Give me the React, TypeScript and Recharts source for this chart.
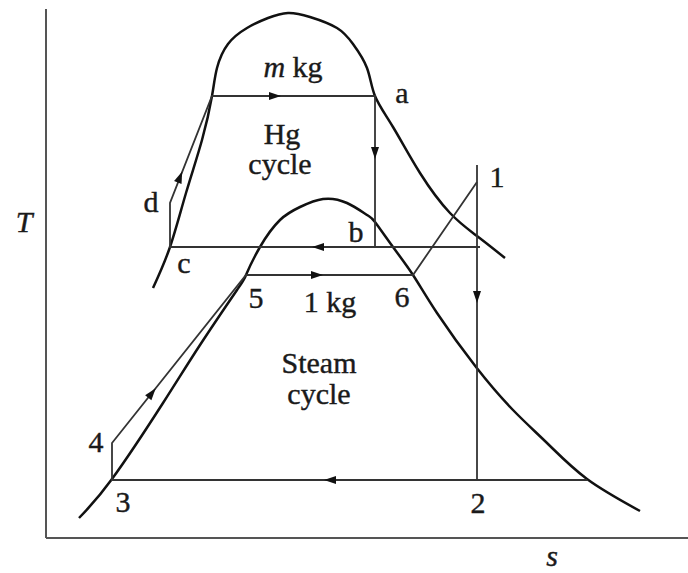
import { ComposedChart, Line, XAxis, YAxis, ReferenceDot, ReferenceLine } from 'recharts';

type Pt = { s: number; T: number };
const pt = (s: number, T: number): Pt => ({ s, T });

// saturation domes (s, T)
const hgDome: Pt[] = [
  pt(107, 250), pt(124, 291), pt(140, 345), pt(156, 398), pt(166, 442), pt(171, 470),
  pt(182, 494), pt(201, 510), pt(222, 520), pt(242, 525), pt(264, 521), pt(291, 510),
  pt(307, 494), pt(321, 470), pt(329, 442), pt(347, 411), pt(374, 365), pt(404, 325),
  pt(431, 302), pt(459, 280),
];

const steamDome: Pt[] = [
  pt(33, 20), pt(66, 59), pt(117, 135), pt(154, 193), pt(191, 248), pt(200, 263),
  pt(214, 291), pt(234, 318), pt(254, 331), pt(277, 339), pt(301, 335), pt(321, 323),
  pt(329, 316), pt(347, 291), pt(367, 263), pt(391, 225), pt(430, 171), pt(467, 128),
  pt(501, 95), pt(541, 59), pt(594, 27),
];

// mercury cycle state points
const hgF = pt(166, 442);
const hgA = pt(329, 442);
const hgB = pt(329, 291);
const hgC = pt(124, 291);
const hgD = pt(124, 335);
const hgCondEnd = pt(434, 291);

// steam cycle state points
const st1 = pt(431, 356);
const st1Top = pt(431, 373);
const st2 = pt(431, 58);
const stG2 = pt(541, 58);
const st3 = pt(66, 58);
const st4 = pt(66, 95);
const st5 = pt(200, 263);
const st6 = pt(367, 263);

const hgPath: Pt[] = [hgCondEnd, hgC, hgD, hgF, hgA, hgB];
const steamPath: Pt[] = [stG2, st3, st4, st5, st6, st1];
const turbinePath: Pt[] = [st1Top, st2];

const arrows = [
  { at: pt(229, 442), from: hgF, to: hgA },
  { at: pt(329, 385), from: hgA, to: hgB },
  { at: pt(272, 291), from: hgCondEnd, to: hgC },
  { at: pt(134, 361), from: hgD, to: hgF },
  { at: pt(271, 263), from: st5, to: st6 },
  { at: pt(431, 241), from: st1, to: st2 },
  { at: pt(284, 58), from: stG2, to: st3 },
  { at: pt(106, 145), from: st4, to: st5 },
];

const labels = [
  { s: 247, T: 461, em: 'm', text: ' kg' },
  { s: 356, T: 435, text: 'a' },
  { s: 236, T: 394, text: 'Hg' },
  { s: 234, T: 364, text: 'cycle' },
  { s: 105, T: 326, text: 'd' },
  { s: 138, T: 265, text: 'c' },
  { s: 310, T: 296, text: 'b' },
  { s: 451, T: 351, text: '1' },
  { s: 210, T: 230, text: '5' },
  { s: 284, T: 226, text: '1 kg' },
  { s: 356, T: 231, text: '6' },
  { s: 273, T: 165, text: 'Steam' },
  { s: 273, T: 134, text: 'cycle' },
  { s: 50, T: 86, text: '4' },
  { s: 77, T: 26, text: '3' },
  { s: 432, T: 25, text: '2' },
  { s: -22, T: 306, em: 'T', text: '' },
  { s: 506, T: -28, em: 's', text: '' },
];

const FONT = "'Liberation Serif', 'DejaVu Serif', serif";

const Arrow = (props: any, from: Pt, to: Pt) => {
  const { cx, cy } = props;
  const ang = (Math.atan2(-(to.T - from.T), to.s - from.s) * 180) / Math.PI;
  return (
    <polygon
      points="6,0 -6,-4 -6,4"
      fill="#111"
      transform={`translate(${cx},${cy}) rotate(${ang})`}
    />
  );
};

export default function App() {
  return (
    <div style={{ position: 'absolute', left: 0, top: 0, width: 688, height: 573, background: '#fff' }}>
      <ComposedChart width={688} height={573} margin={{ top: 9, right: 0, bottom: 35, left: 46 }}>
        <XAxis type="number" dataKey="s" domain={[0, 642]} hide />
        <YAxis type="number" domain={[0, 529]} hide />
        <ReferenceLine x={0} stroke="#555" strokeWidth={2} />
        <ReferenceLine y={0} stroke="#555" strokeWidth={2} />
        <Line data={hgDome} dataKey="T" type="natural" dot={false} stroke="#111" strokeWidth={2.5} isAnimationActive={false} />
        <Line data={steamDome} dataKey="T" type="natural" dot={false} stroke="#111" strokeWidth={2.5} isAnimationActive={false} />
        <Line data={hgPath} dataKey="T" type="linear" dot={false} stroke="#333" strokeWidth={1.8} isAnimationActive={false} />
        <Line data={steamPath} dataKey="T" type="linear" dot={false} stroke="#333" strokeWidth={1.8} isAnimationActive={false} />
        <Line data={turbinePath} dataKey="T" type="linear" dot={false} stroke="#333" strokeWidth={1.8} isAnimationActive={false} />
        {arrows.map((a, i) => (
          <ReferenceDot
            key={'ar' + i}
            x={a.at.s}
            y={a.at.T}
            r={0}
            ifOverflow="visible"
            shape={(p: any) => Arrow(p, a.from, a.to)}
          />
        ))}
        {labels.map((l, i) => (
          <ReferenceDot
            key={'lb' + i}
            x={l.s}
            y={l.T}
            r={0}
            ifOverflow="visible"
            shape={(p: any) => (
              <text
                x={p.cx}
                y={p.cy}
                textAnchor="middle"
                style={{ fontFamily: FONT, fontSize: 30, fill: '#1a1a1a', stroke: '#1a1a1a', strokeWidth: 0.4 }}
              >
                {l.em ? <tspan style={{ fontStyle: 'italic' }}>{l.em}</tspan> : null}
                {l.text}
              </text>
            )}
          />
        ))}
      </ComposedChart>
    </div>
  );
}
